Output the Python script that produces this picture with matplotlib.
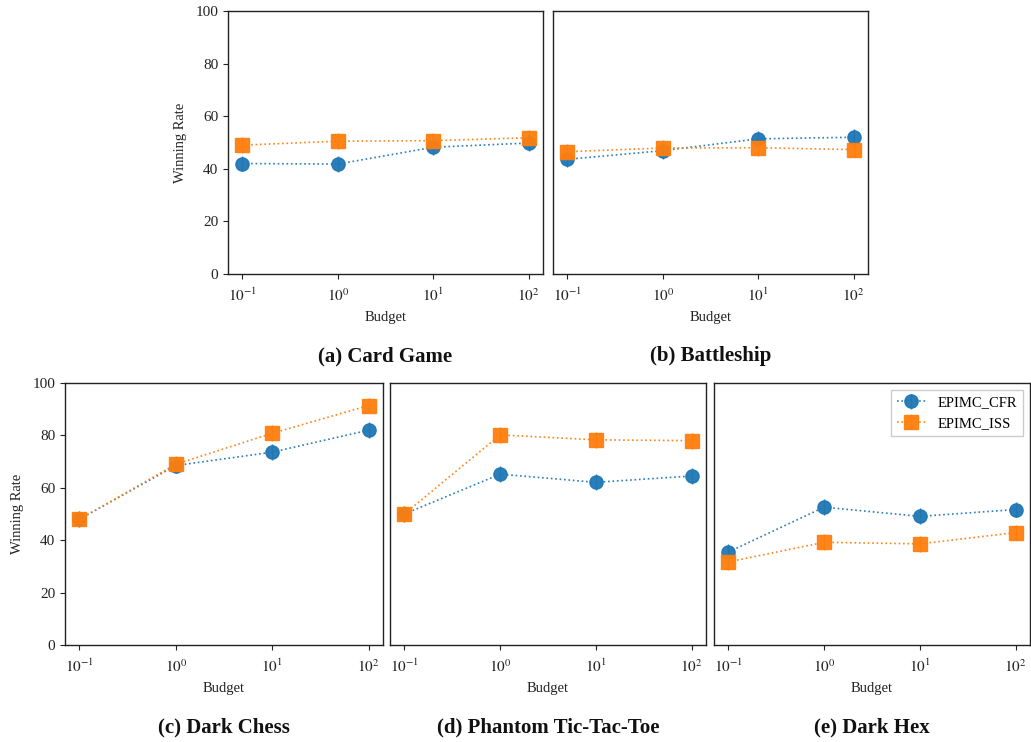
import matplotlib
matplotlib.use("Agg")
import matplotlib.pyplot as plt
import numpy as np

plt.rcParams['font.family'] = ['Liberation Serif', 'DejaVu Serif']
plt.rcParams['mathtext.fontset'] = 'stix'

budgets = [0.1, 1, 10, 100]
titles = ["(a) Card Game", "(b) Battleship", "(c) Dark Chess",
          "(d) Phantom Tic-Tac-Toe", "(e) Dark Hex"]
cfr = {
    "(a) Card Game": [42.0, 41.8, 48.2, 49.8],
    "(b) Battleship": [43.6, 46.9, 51.4, 52.0],
    "(c) Dark Chess": [48.0, 68.5, 73.6, 82.0],
    "(d) Phantom Tic-Tac-Toe": [50.0, 65.2, 62.1, 64.5],
    "(e) Dark Hex": [35.5, 52.6, 49.1, 51.7],
}
iss = {
    "(a) Card Game": [49.0, 50.5, 50.7, 51.8],
    "(b) Battleship": [46.5, 47.9, 48.0, 47.3],
    "(c) Dark Chess": [48.0, 69.0, 80.8, 91.4],
    "(d) Phantom Tic-Tac-Toe": [50.0, 80.2, 78.3, 78.0],
    "(e) Dark Hex": [31.7, 39.2, 38.6, 42.9],
}
cfr_err = {k: [3.0, 3.0, 3.0, 3.0] for k in titles}
iss_err = {k: [3.0, 3.0, 3.0, 3.0] for k in titles}

W, H = 1031, 742
fig = plt.figure(figsize=(W / 100, H / 100), dpi=100)

def ax_px(x0, y0, x1, y1):
    return fig.add_axes([x0 / W, 1 - y1 / H, (x1 - x0) / W, (y1 - y0) / H])

boxes = [(228, 11, 543, 274), (553, 11, 868, 274),
         (65, 383, 383, 645), (390, 383, 706, 645), (714, 383, 1030, 645)]
cap_y = [356, 356, 727, 727, 727]

blue = '#1f77b4'
orange = '#ff7f0e'

for i, (t, b) in enumerate(zip(titles, boxes)):
    ax = ax_px(*b)
    ax.errorbar(budgets, cfr[t], yerr=cfr_err[t], color=blue, marker='o',
                markersize=9.5, linestyle=':', linewidth=1.2, elinewidth=1.0,
                alpha=0.95, label='EPIMC_CFR')
    ax.errorbar(budgets, iss[t], yerr=iss_err[t], color=orange, marker='s',
                markersize=9.5, linestyle=':', linewidth=1.2, elinewidth=1.0,
                alpha=0.95, label='EPIMC_ISS')
    ax.set_xscale('log')
    ax.set_ylim(0, 100)
    ax.set_yticks([0, 20, 40, 60, 80, 100])
    ax.minorticks_off()
    ax.set_xticks(budgets)
    ax.set_xticklabels([r'$10^{-1}$', r'$10^{0}$', r'$10^{1}$', r'$10^{2}$'])
    ax.tick_params(labelsize=11, length=3.5, width=0.8, colors='#222222')
    ax.tick_params(axis='x', pad=6)
    for s in ax.spines.values():
        s.set_color('#222222')
        s.set_linewidth(1.0)
    ax.set_xlabel('Budget', fontsize=10.5, color='#222222', labelpad=5)
    if i in (0, 2):
        ax.set_ylabel('Winning Rate', fontsize=10.5, color='#222222', labelpad=6)
    else:
        ax.set_yticklabels([])
        ax.tick_params(axis='y', length=0)
    if i == 4:
        ax.legend(loc='upper right', fontsize=10.5, frameon=True, fancybox=False,
                  edgecolor='#cccccc', framealpha=1, handlelength=2.0)
    cx = (b[0] + b[2]) / 2
    fig.text(cx / W, 1 - cap_y[i] / H, t, ha='center', va='center',
             fontsize=15, fontweight='bold', color='#111111')

fig.savefig('out.png', dpi=100)
